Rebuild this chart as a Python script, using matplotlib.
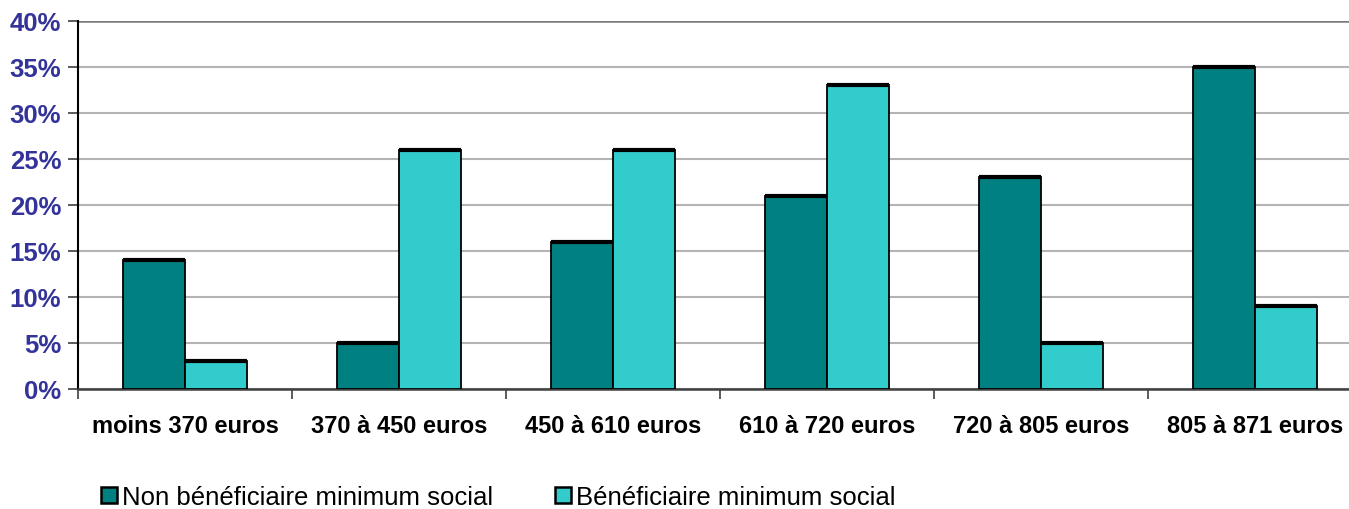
import matplotlib
matplotlib.use("Agg")
import matplotlib.pyplot as plt
import numpy as np
from matplotlib.patches import Patch

categories = ["moins 370 euros", "370 à 450 euros", "450 à 610 euros",
              "610 à 720 euros", "720 à 805 euros", "805 à 871 euros"]
non_benef = [14, 5, 16, 21, 23, 35]
benef = [3, 26, 26, 33, 5, 9]
series_names = ["Non bénéficiaire minimum social", "Bénéficiaire minimum social"]
yticks = [0, 5, 10, 15, 20, 25, 30, 35, 40]

plt.rcParams['font.family'] = ['Liberation Sans', 'DejaVu Sans']

fig = plt.figure(figsize=(13.49, 5.10), dpi=100)
W, H = 1349, 510
left, right, top, bottom = 78, 1362, 22, 390
ax = fig.add_axes([left / W, 1 - bottom / H, (right - left) / W, (bottom - top) / H])

x = np.arange(len(categories))
bw = 0.29
c1, c2 = "#008080", "#33CCCC"
ax.bar(x - bw / 2, non_benef, bw, color=c1, edgecolor="black", linewidth=1.3, zorder=3)
ax.bar(x + bw / 2, benef, bw, color=c2, edgecolor="black", linewidth=1.3, zorder=3)
ax.hlines(non_benef, x - bw, x, color="black", linewidth=3, zorder=4)
ax.hlines(benef, x, x + bw, color="black", linewidth=3, zorder=4)

ax.set_xlim(-0.5, len(categories) - 0.5)
ax.set_ylim(0, 40)
ax.set_yticks(yticks)
ax.set_yticklabels([f"{v}%" for v in yticks], fontsize=18.5, fontweight="bold", color="#333399")
ax.yaxis.grid(True, color="#b4b4b4", linewidth=1.5, zorder=0)
ax.set_axisbelow(True)

ax.set_xticks(x)
ax.set_xticklabels(categories, fontsize=17, fontweight="bold")
ax.tick_params(axis="x", length=0, pad=18)
ax.set_xticks(np.arange(-0.5, len(categories)), minor=True)
ax.tick_params(axis="x", which="minor", length=7, width=1.2, color="#404040", direction="out")
ax.tick_params(axis="y", length=7, width=1.2, color="#404040", direction="out", pad=5)

for s in ["top", "right"]:
    ax.spines[s].set_visible(False)
ax.spines["left"].set_color("black")
ax.spines["left"].set_linewidth(1.5)
ax.spines["bottom"].set_color("#404040")
ax.spines["bottom"].set_linewidth(1.8)
ax.axhline(40, color="#7a7a7a", linewidth=1.8, zorder=1)

handles = [Patch(facecolor=c1, edgecolor="black", linewidth=1.8),
           Patch(facecolor=c2, edgecolor="black", linewidth=1.8)]
fig.legend(handles, series_names, loc="center left", bbox_to_anchor=(88 / W, 1 - 498 / H),
           ncol=2, frameon=False, fontsize=18.5, handlelength=0.62, handleheight=0.62,
           handletextpad=0.2, columnspacing=2.4, borderpad=0)

fig.savefig("out.png", dpi=100)
